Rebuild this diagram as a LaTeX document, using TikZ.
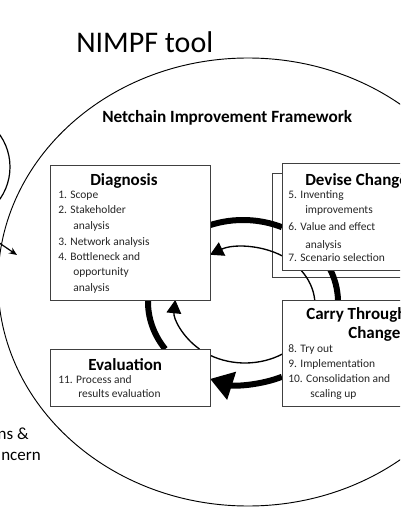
\documentclass[tikz,border=0pt]{standalone}
\usepackage{fontspec}
\setmainfont{Carlito}
\usetikzlibrary{positioning,arrows.meta}

\begin{document}
\begin{tikzpicture}[x=0.75pt, y=-0.75pt,
    stagebox/.style={draw=black!75, line width=0.9pt, fill=white, inner sep=0pt, anchor=north west, minimum width=120pt},
    stagetitle/.style={font=\fontsize{12.75}{14}\selectfont\bfseries, anchor=base west, inner sep=0pt},
    stageitem/.style={font=\fontsize{8.6}{10}\selectfont, anchor=base west, inner sep=0pt, text=black!85},
    thickarc/.style={line width=4.5pt},
    thinarc/.style={line width=1pt}]
\useasboundingbox (0,0) rectangle (400,516);
\clip (0,0) rectangle (400,516);

% outer framework and the things left of it
\coordinate (frame) at (248,282);
\draw[line width=0.7pt] (frame) ellipse [x radius=250, y radius=224];
\coordinate (side) at (-46,167);
\draw[line width=0.9pt] (side) ellipse [x radius=56, y radius=56];
\coordinate (inflow) at (-8,238);
\coordinate (inpoint) at (17,255);
\draw[line width=0.9pt, -{Stealth[length=6pt,width=5pt]}] (inflow) -- (inpoint);

\node[font=\fontsize{22.5}{26}\selectfont, anchor=base west, inner sep=0pt] (tool) at (76,53) {NIMPF tool};
\node[font=\fontsize{12.9}{15}\selectfont\bfseries, anchor=base west, inner sep=0pt] (framework) at (102,123) {Netchain Improvement Framework};
\node[font=\fontsize{12.75}{15}\selectfont, anchor=base east, inner sep=0pt] (concern1) at (29,439) {ns \&};
\node[font=\fontsize{12.75}{15}\selectfont, anchor=base east, inner sep=0pt] (concern2) at (41,460) {ncern};

% stacked sheet behind Devise Change
\node[stagebox, minimum height=78pt] (devback) at (272,173) {};

% cycle arcs
\coordinate (thickc) at (243,302);
\coordinate (thinc) at (245,305);
\draw[thickarc] (thickc) ++(249.7:95 and 82) arc[start angle=249.7, end angle=294.2, x radius=95, y radius=82];
\draw[thickarc] (thickc) ++(337:95 and 82) arc[start angle=337, end angle=358.6, x radius=95, y radius=82];
\draw[thickarc, -{Triangle[length=17pt,width=21pt]}] (thickc) ++(65.8:95 and 82) arc[start angle=65.8, end angle=110.3, x radius=95, y radius=82];
\draw[thickarc] (thickc) ++(145:95 and 82) arc[start angle=145, end angle=181.4, x radius=95, y radius=82];

\draw[thinarc, -{Triangle[length=10pt,width=11pt]}] (thinc) ++(302:70 and 58) arc[start angle=302, end angle=240, x radius=70, y radius=58];
\draw[thinarc] (thinc) ++(323:70 and 58) arc[start angle=323, end angle=355, x radius=70, y radius=58];
\draw[thinarc] (thinc) ++(58:70 and 58) arc[start angle=58, end angle=120, x radius=70, y radius=58];
\draw[thinarc, -{Triangle[length=10pt,width=11pt]}] (thinc) ++(130.6:70 and 58) arc[start angle=130.6, end angle=185, x radius=70, y radius=58];

% stage boxes
\node[stagebox, minimum height=101.25pt] (diag) at (50,165) {};
\node[stagebox, minimum height=80.25pt] (devise) at (282,163) {};
\node[stagebox, minimum height=79.5pt] (carry) at (282,300) {};
\node[stagebox, minimum height=42.75pt] (eval) at (50,349) {};

% titles
\node[stagetitle] (diagtitle) at (90,186) {Diagnosis};
\node[stagetitle] (devisetitle) at (305,186) {Devise Change};
\node[stagetitle] (carrytitle) at (306,319) {Carry Through};
\node[stagetitle] (carrytitle2) at (348,338) {Change};
\node[stagetitle] (evaltitle) at (88,370) {Evaluation};

% steps
\foreach \xx/\yy/\txt in {58/199/1. Scope, 58/214/2. Stakeholder, 73/229/analysis, 58/245/3. Network analysis,
    58/260/4. Bottleneck and, 73/275/opportunity, 73/291/analysis,
    288/199/5. Inventing, 305/214/improvements, 288/230/6. Value and effect, 305/248/analysis, 288/261/7. Scenario selection,
    288/352/8. Try out, 288/367/9. Implementation, 288/382/10. Consolidation and, 310/397/scaling up,
    58/383/11. Process and, 78/397/results evaluation} {
    \node[stageitem] at (\xx,\yy) {\txt};
}

\end{tikzpicture}
\end{document}
